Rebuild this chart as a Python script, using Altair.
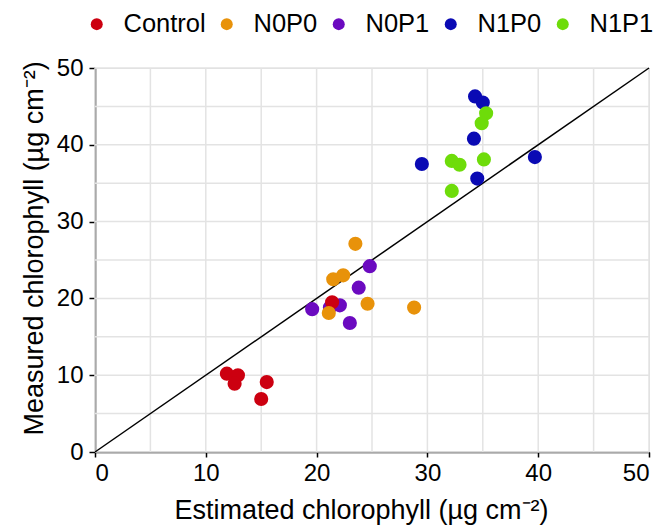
import altair as alt
import pandas as pd

groups = ["Control", "N0P0", "N0P1", "N1P0", "N1P1"]
colors = ["#CC0010", "#E8920A", "#6B0AC0", "#0A0AB4", "#6EDC0A"]

control_x = [11.9, 12.9, 12.6, 15.5, 15.0, 21.4]
control_y = [10.2, 10.0, 8.9, 9.1, 6.9, 19.5]
n0p0_x = [23.5, 21.5, 22.4, 21.1, 24.6, 28.8]
n0p0_y = [27.1, 22.5, 23.0, 18.1, 19.3, 18.8]
n0p1_x = [24.8, 23.8, 19.6, 22.1, 23.0, 21.2]
n0p1_y = [24.2, 21.4, 18.6, 19.1, 16.8, 18.8]
n1p0_x = [34.3, 35.0, 34.2, 29.5, 34.5, 39.7]
n1p0_y = [46.3, 45.5, 40.8, 37.5, 35.6, 38.4]
n1p1_x = [35.3, 34.9, 32.2, 32.9, 35.1, 32.2]
n1p1_y = [44.1, 42.8, 37.9, 37.4, 38.1, 34.0]

grid_values = [0, 5, 10, 15, 20, 25, 30, 35, 40, 45, 50]
tick_values = [0, 10, 20, 30, 40, 50]
line_values = [0, 50]

rows = []
for g, xs, ys in [("N0P1", n0p1_x, n0p1_y), ("Control", control_x, control_y),
                  ("N0P0", n0p0_x, n0p0_y), ("N1P0", n1p0_x, n1p0_y),
                  ("N1P1", n1p1_x, n1p1_y)]:
    for x, y in zip(xs, ys):
        rows.append({"group": g, "est": x, "meas": y})
df = pd.DataFrame(rows)
grid_df = pd.DataFrame({"v": grid_values})
line_df = pd.DataFrame({"a": line_values, "b": line_values})

FONT = "Liberation Sans"
xscale = alt.Scale(domain=[0, 50], nice=False, zero=False)
yscale = alt.Scale(domain=[0, 50], nice=False, zero=False)

xaxis = alt.Axis(values=tick_values, grid=False, title="Estimated chlorophyll (µg cm⁻²)",
                 labelFontSize=24, titleFontSize=27, labelColor="black", titleColor="black",
                 titleFontWeight="normal", tickColor="black", domainColor="black",
                 domainWidth=1.5, tickWidth=1.5, tickSize=5, labelPadding=4, titlePadding=12,
                 titleX=266, titleAlign="center",
                 labelFont=FONT, titleFont=FONT)
yaxis = alt.Axis(values=tick_values, grid=False, title="Measured chlorophyll (µg cm⁻²)",
                 labelFontSize=24, titleFontSize=27, labelColor="black", titleColor="black",
                 titleFontWeight="normal", tickColor="black", domainColor="black",
                 domainWidth=1.5, tickWidth=1.5, tickSize=6, labelPadding=6,
                 titleX=-53, titleY=367, titleAlign="left", titleBaseline="alphabetic",
                 titleAngle=270,
                 labelFont=FONT, titleFont=FONT)

vgrid = alt.Chart(grid_df).mark_rule(color="#E3E3E3", strokeWidth=1.5).encode(
    x=alt.X("v:Q", scale=xscale, axis=xaxis))
hgrid = alt.Chart(grid_df).mark_rule(color="#E3E3E3", strokeWidth=1.5).encode(
    y=alt.Y("v:Q", scale=yscale, axis=yaxis))

diag = alt.Chart(line_df).mark_line(color="black", strokeWidth=1.5).encode(
    x=alt.X("a:Q", scale=xscale, axis=xaxis),
    y=alt.Y("b:Q", scale=yscale, axis=yaxis))

pts = alt.Chart(df).mark_point(filled=True, opacity=1, size=200, shape="circle").encode(
    x=alt.X("est:Q", scale=xscale, axis=xaxis),
    y=alt.Y("meas:Q", scale=yscale, axis=yaxis),
    color=alt.Color("group:N", scale=alt.Scale(domain=groups, range=colors),
                    legend=alt.Legend(title=None, orient="none", direction="horizontal",
                                      columns=5, gridAlign="each",
                                      legendX=-11, legendY=-57, labelFontSize=25.5,
                                      labelFont=FONT, labelColor="black",
                                      symbolSize=144, symbolType="circle",
                                      symbolStrokeWidth=0, columnPadding=8,
                                      labelOffset=14, padding=0)),
    order=alt.value(0))

chart = alt.layer(vgrid, hgrid, diag, pts).properties(
    width=554, height=384,
    autosize=alt.AutoSizeParams(type="none"),
    padding={"left": 95, "top": 68, "right": 22, "bottom": 76},
).configure_view(stroke="black", strokeWidth=1).configure(background="white")

chart.save("out.html", embed_options={"renderer": "svg", "actions": False})
